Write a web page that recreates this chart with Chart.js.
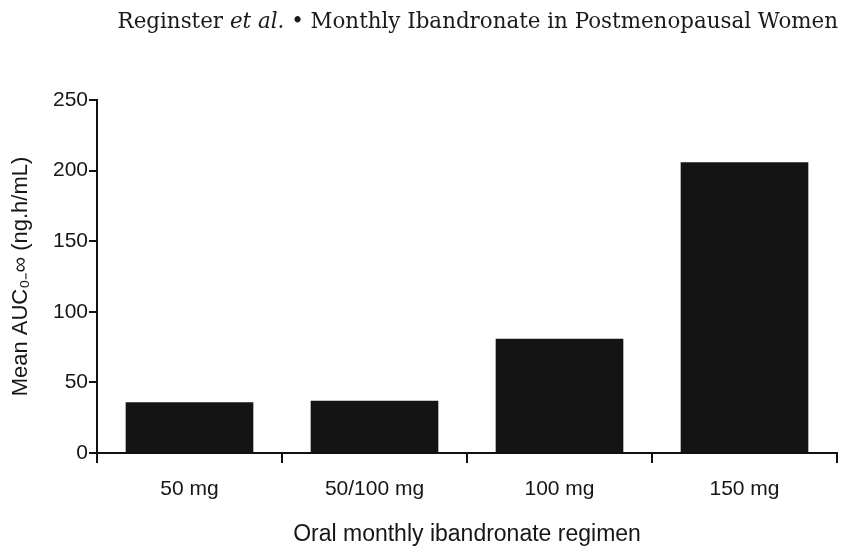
<!DOCTYPE html>
<html>
<head>
<meta charset="utf-8">
<script src="https://cdn.jsdelivr.net/npm/chart.js@4"></script>
<style>
  html, body { margin: 0; padding: 0; background: #fff; }
  #wrap { position: relative; width: 844px; height: 550px; }
  #header {
    position: absolute; top: 8px; right: 6px;
    font-family: "DejaVu Serif", serif; font-size: 21.4px; color: #1a1a1a;
    white-space: nowrap;
  }
  #header i { font-style: italic; }
  canvas { position: absolute; left: 0; top: 0; }
</style>
</head>
<body>
<div id="wrap">
  <canvas id="chartAuc" width="844" height="550"></canvas>
  <div id="header">Reginster <i>et al.</i> &bull; Monthly Ibandronate in Postmenopausal Women</div>
</div>
<script>
// dados
const regimes = ['50 mg', '50/100 mg', '100 mg', '150 mg'];
const mediaAuc = [36, 37, 81, 206];
const yTicks = [0, 50, 100, 150, 200, 250];

const corTexto = '#161616';
const fonteTicks = { family: 'Liberation Sans, Arial, sans-serif', size: 21 };
const fonteTituloX = { family: 'Liberation Sans, Arial, sans-serif', size: 23 };
const fonteTituloY = { family: 'Liberation Sans, Arial, sans-serif', size: 22 };

const canvas = document.getElementById('chartAuc');
const chartAuc = new Chart(canvas, {
    type: 'bar',
    data: {
        labels: regimes,
        datasets: [{
            label: 'Mean AUC',
            data: mediaAuc,
            backgroundColor: '#141414',
            borderWidth: 0,
            categoryPercentage: 1,
            barPercentage: 0.69
        }]
    },
    options: {
        responsive: false,
        animation: false,
        layout: { padding: { left: 8, right: 7, top: 100, bottom: 2 } },
        plugins: { legend: { display: false }, tooltip: { enabled: false } },
        scales: {
            x: {
                grid: { display: true, drawOnChartArea: false, drawTicks: true, tickLength: 10, color: '#111', lineWidth: 2, offset: true },
                border: { display: true, color: '#111', width: 2 },
                ticks: { color: corTexto, font: fonteTicks, padding: 14 },
                title: { display: true, text: 'Oral monthly ibandronate regimen', color: corTexto, font: fonteTituloX, padding: { top: 9, bottom: 0 } },
                afterFit: function (s) { s.height = 95; }
            },
            y: {
                min: 0, max: 250,
                afterBuildTicks: function (s) { s.ticks = yTicks.map(v => ({ value: v })); },
                grid: { display: true, drawOnChartArea: false, drawTicks: true, tickLength: 8, color: '#111', lineWidth: 2 },
                border: { display: true, color: '#111', width: 2 },
                ticks: { color: corTexto, font: fonteTicks, padding: 1 },
                title: { display: true, text: 'Mean AUC\u2080\u208B\u221E (ng.h/mL)', color: corTexto, font: fonteTituloY, padding: { top: 0, bottom: 2 } },
                afterFit: function (s) { s.width = 89; }
            }
        }
    }
});
</script>
</body>
</html>
